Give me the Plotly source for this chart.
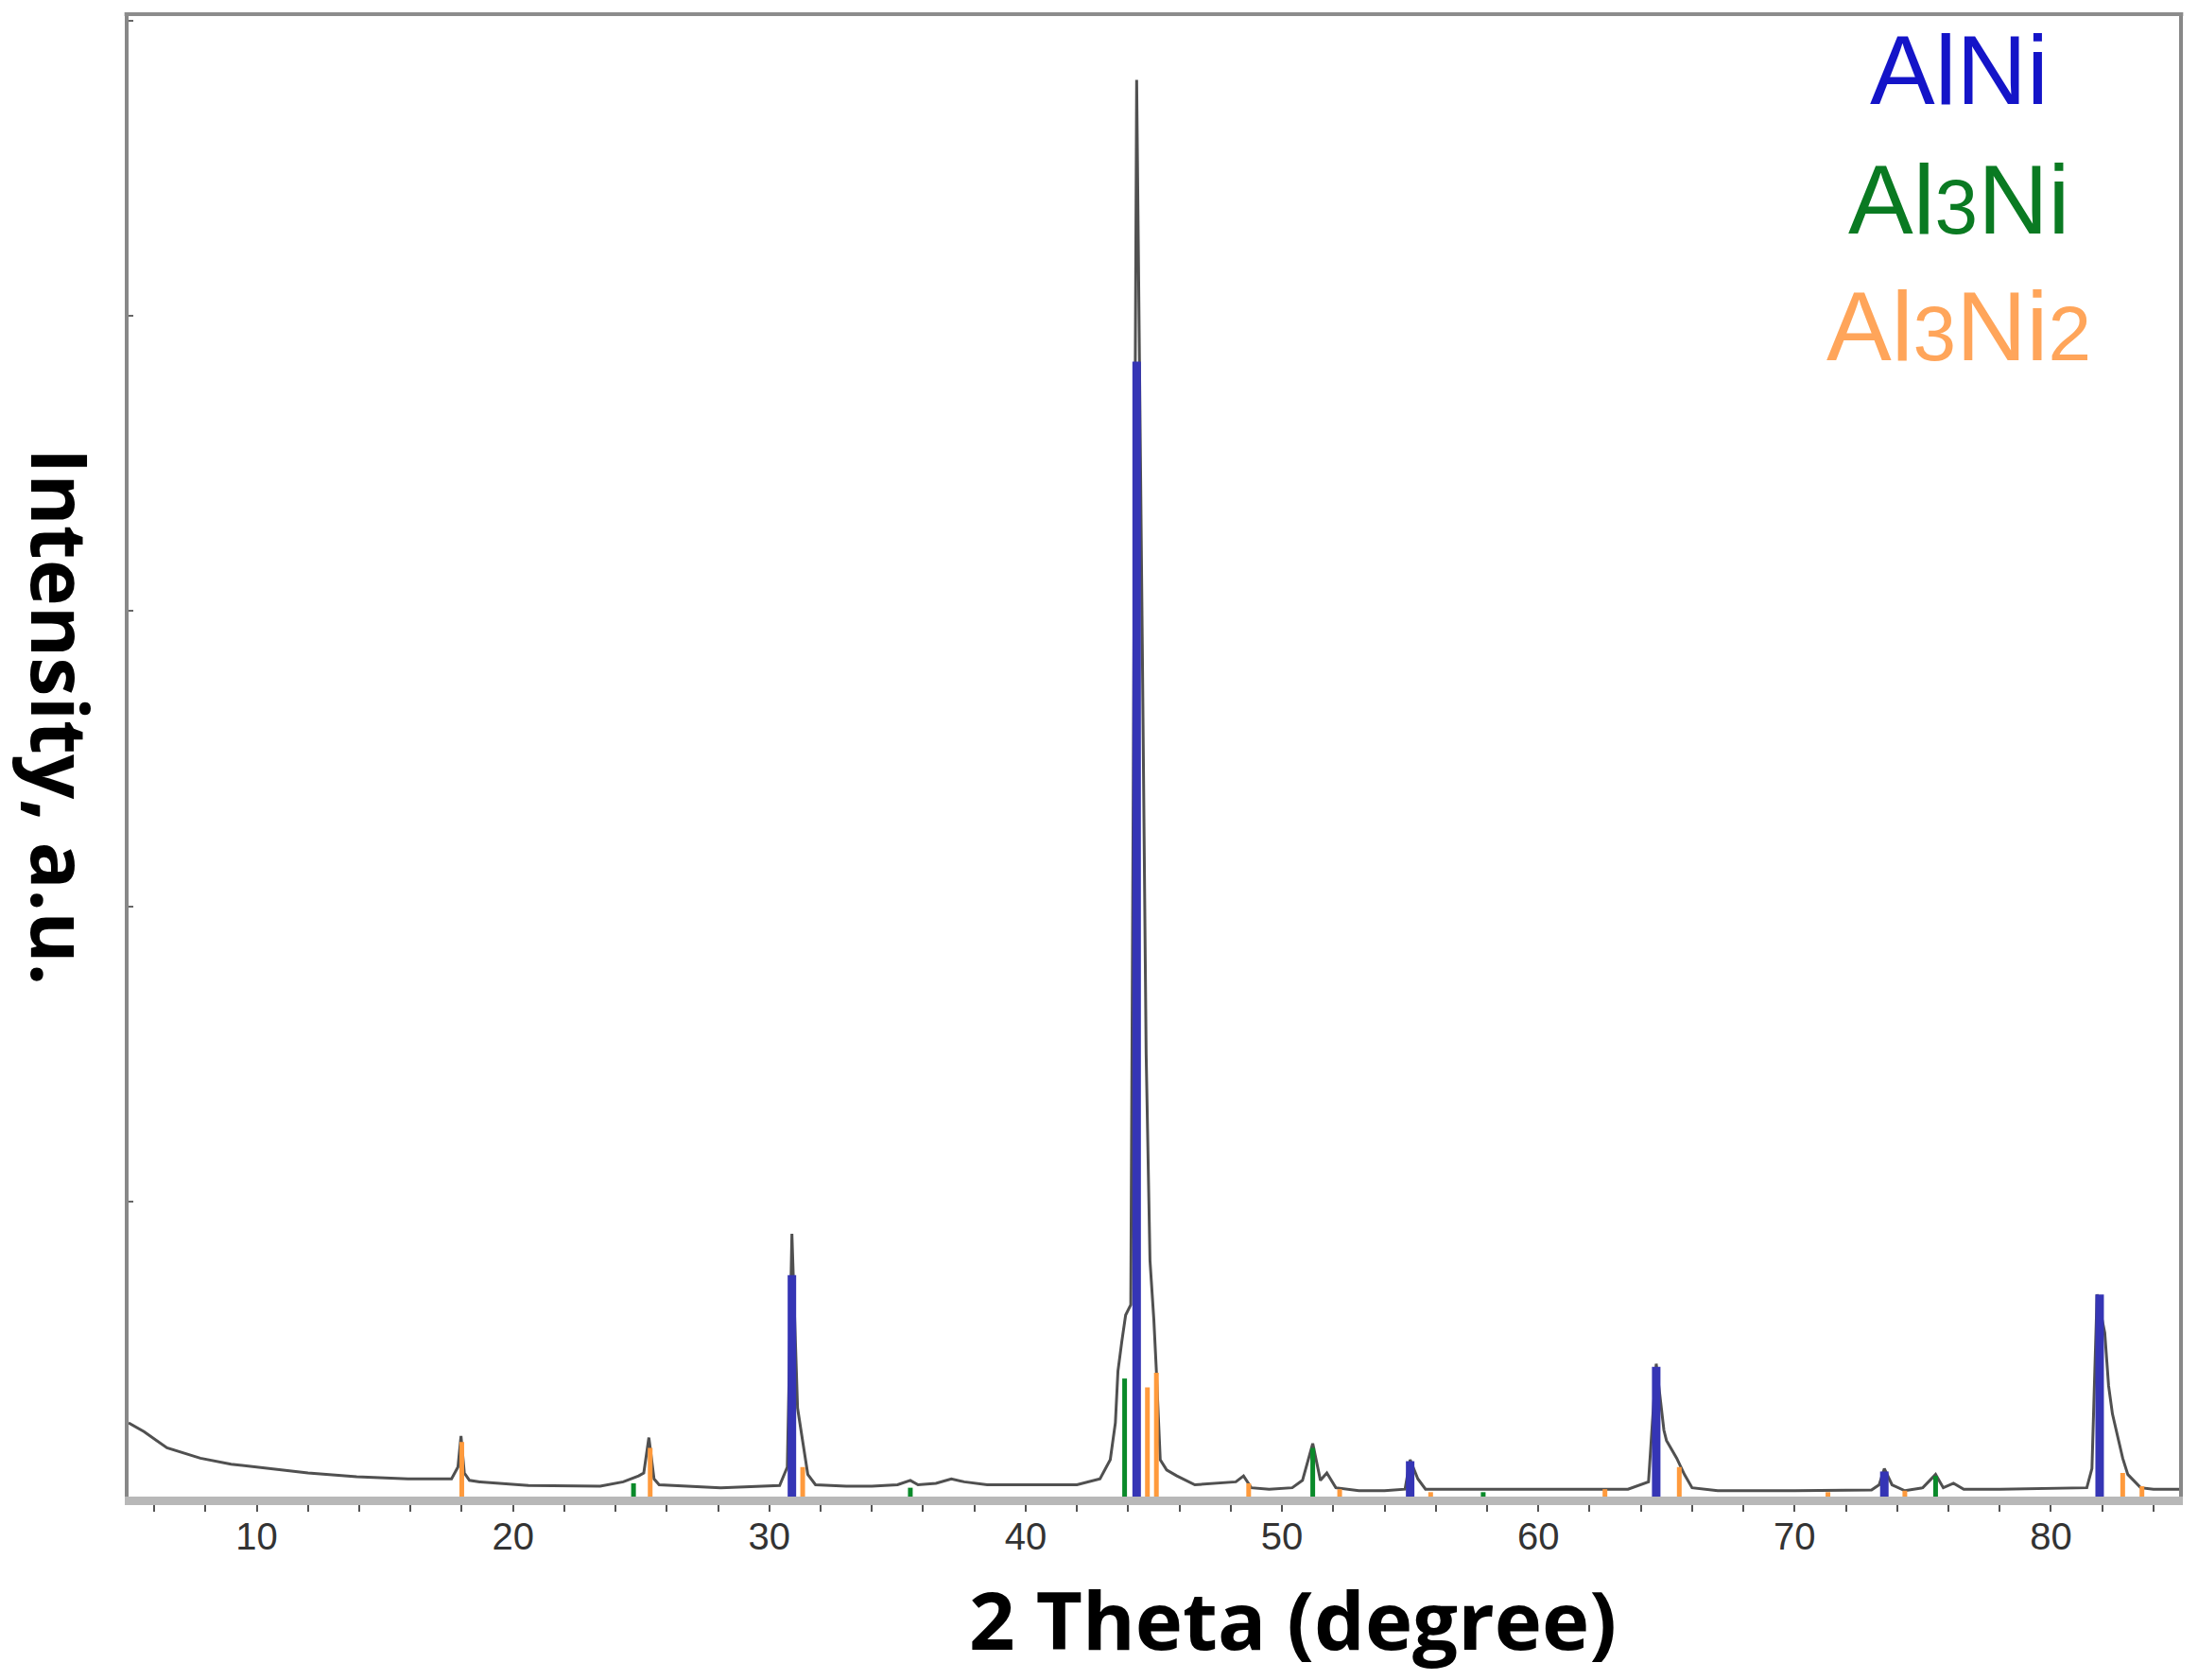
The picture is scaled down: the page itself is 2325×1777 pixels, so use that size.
import plotly.graph_objects as go

# ---- XRD pattern (2theta in degrees, intensity in a.u.) ----
pattern_x = [5.0, 5.6, 6.5, 7.8, 9.0, 10.0, 12.0, 13.9, 15.9, 17.6, 17.85, 17.97, 18.1, 18.3, 18.7,
             20.6, 23.4, 24.3, 24.9, 25.1, 25.3, 25.5, 25.7, 28.1, 30.4, 30.7, 30.88, 31.1, 31.3,
             31.5, 31.8, 33.0, 34.0, 35.0, 35.5, 35.8, 36.5, 37.1, 37.6, 38.5, 40.0, 42.0, 42.9,
             43.3, 43.5, 43.6, 43.75, 43.9, 44.1, 44.33, 44.55, 44.7, 44.85, 45.0, 45.1, 45.25,
             45.5, 45.9, 46.6, 47.5, 48.2, 48.5, 48.8, 49.5, 50.4, 50.8, 51.2, 51.5, 51.75, 52.1,
             53.0, 54.0, 54.8, 55.0, 55.3, 55.6, 57.0, 60.0, 63.5, 64.3, 64.6, 64.9, 65.0, 65.4,
             65.7, 66.0, 67.0, 70.0, 73.0, 73.3, 73.5, 73.8, 74.3, 75.0, 75.5, 75.8, 76.2, 76.6,
             78.0, 81.4, 81.6, 81.8, 82.1, 82.25, 82.4, 82.8, 83.0, 83.5, 84.0, 85.0]
pattern_y = [5.0, 4.4, 3.3, 2.6, 2.2, 2.0, 1.6, 1.35, 1.2, 1.2, 2.0, 4.1, 1.6, 1.1, 1.0,
             0.75, 0.7, 1.0, 1.4, 1.6, 4.0, 1.2, 0.8, 0.6, 0.75, 2.0, 17.8, 6.0, 3.8,
             1.5, 0.8, 0.7, 0.7, 0.8, 1.1, 0.8, 0.9, 1.2, 1.0, 0.8, 0.8, 0.8, 1.2,
             2.5, 5.0, 8.5, 10.5, 12.3, 13.0, 96.0, 57.8, 30.0, 16.0, 12.0, 8.5, 2.5,
             1.8, 1.4, 0.8, 0.9, 1.0, 1.4, 0.6, 0.5, 0.6, 1.1, 3.6, 1.1, 1.6, 0.6,
             0.4, 0.4, 0.5, 2.5, 1.2, 0.5, 0.5, 0.5, 0.5, 1.0, 9.0, 4.5, 3.8, 2.6,
             1.5, 0.6, 0.4, 0.4, 0.45, 0.8, 1.9, 0.8, 0.4, 0.6, 1.5, 0.6, 0.9, 0.5,
             0.5, 0.6, 1.9, 13.7, 11.1, 7.5, 5.6, 2.6, 1.5, 0.6, 0.5, 0.5]

# ---- reference stick patterns ----
alni_x = [30.88, 44.33, 55.0, 64.6, 73.5, 81.9]
alni_h = [15.0, 76.9, 2.4, 8.8, 1.7, 13.7]

al3ni_x = [24.7, 35.5, 43.86, 51.2, 57.85, 75.5]
al3ni_h = [0.9, 0.6, 8.0, 3.3, 0.3, 1.4]

al3ni2_x = [18.0, 25.35, 31.3, 44.75, 45.1, 48.7, 52.25, 55.8, 62.6, 65.5, 71.3, 74.3, 82.8, 83.55]
al3ni2_h = [3.7, 3.3, 2.0, 7.4, 8.4, 0.9, 0.5, 0.3, 0.5, 2.0, 0.3, 0.4, 1.6, 0.7]

x_tick_vals = [10, 20, 30, 40, 50, 60, 70, 80]
x_tick_text = ["10", "20", "30", "40", "50", "60", "70", "80"]


def sticks(xs, hs):
    sx, sy = [], []
    for x, h in zip(xs, hs):
        sx += [x, x, None]
        sy += [0, h, None]
    return sx, sy


fig = go.Figure()
fig.add_trace(go.Scatter(x=pattern_x, y=pattern_y, mode="lines",
                         line=dict(color="#505050", width=3), showlegend=False))

for xs, hs, col, w in [(al3ni_x, al3ni_h, "#0a8a2a", 5),
                       (al3ni2_x, al3ni2_h, "#ff9a3c", 5),
                       (alni_x, alni_h, "#3535b5", 9)]:
    sx, sy = sticks(xs, hs)
    fig.add_trace(go.Scatter(x=sx, y=sy, mode="lines", line=dict(color=col, width=w),
                             showlegend=False, cliponaxis=True))

fig.update_layout(
    width=2317, height=1769,
    margin=dict(l=128, r=20, t=7, b=194),
    paper_bgcolor="white", plot_bgcolor="white",
    showlegend=False,
)
fig.update_xaxes(
    range=[5, 85], showgrid=False, zeroline=False,
    showline=True, linecolor="#b8b8b8", linewidth=9,
    tickmode="array", tickvals=x_tick_vals, ticktext=x_tick_text,
    ticks="outside", ticklen=7, tickwidth=2, tickcolor="#555555",
    minor=dict(dtick=2, tick0=0, ticks="outside", ticklen=7, tickwidth=2, tickcolor="#555555", showgrid=False),
    tickfont=dict(family="Liberation Sans", size=40, color="#333333"),
    ticklabelstandoff=-8,
)
fig.update_yaxes(
    range=[0, 100.45], showgrid=False, zeroline=False,
    showline=True, linecolor="#888888", linewidth=4, mirror=True,
    dtick=20, ticks="inside", ticklen=5, tickwidth=2, tickcolor="#666666",
    showticklabels=False,
)
fig.add_shape(type="line", xref="paper", yref="paper", x0=-0.002, x1=1.002, y0=1, y1=1,
              line=dict(color="#8c8c8c", width=4))

fig.add_annotation(text="2 Theta (degree)", xref="paper", yref="paper", x=0.568, y=-0.082,
                   xanchor="center", yanchor="middle", showarrow=False,
                   font=dict(family="Open Sans", size=85, color="black", weight="bold"))
fig.add_annotation(text="Intensity, a.u.", xref="paper", yref="paper", x=-0.0325, y=0.526,
                   xanchor="center", yanchor="middle", showarrow=False, textangle=90,
                   font=dict(family="Open Sans", size=83, color="black", weight="bold"))

legend_items = [("AlNi", "#1414c8", 0.962),
                ("Al<span style='font-size:82px'>3</span>Ni", "#0a7a22", 0.875),
                ("Al<span style='font-size:82px'>3</span>Ni<span style='font-size:82px'>2</span>", "#ffa55a", 0.789)]
for txt, col, yy in legend_items:
    fig.add_annotation(text=txt, xref="paper", yref="paper", x=0.8926, y=yy,
                       xanchor="center", yanchor="middle", showarrow=False,
                       font=dict(family="Liberation Sans", size=103, color=col))

fig.write_html("out.html")
